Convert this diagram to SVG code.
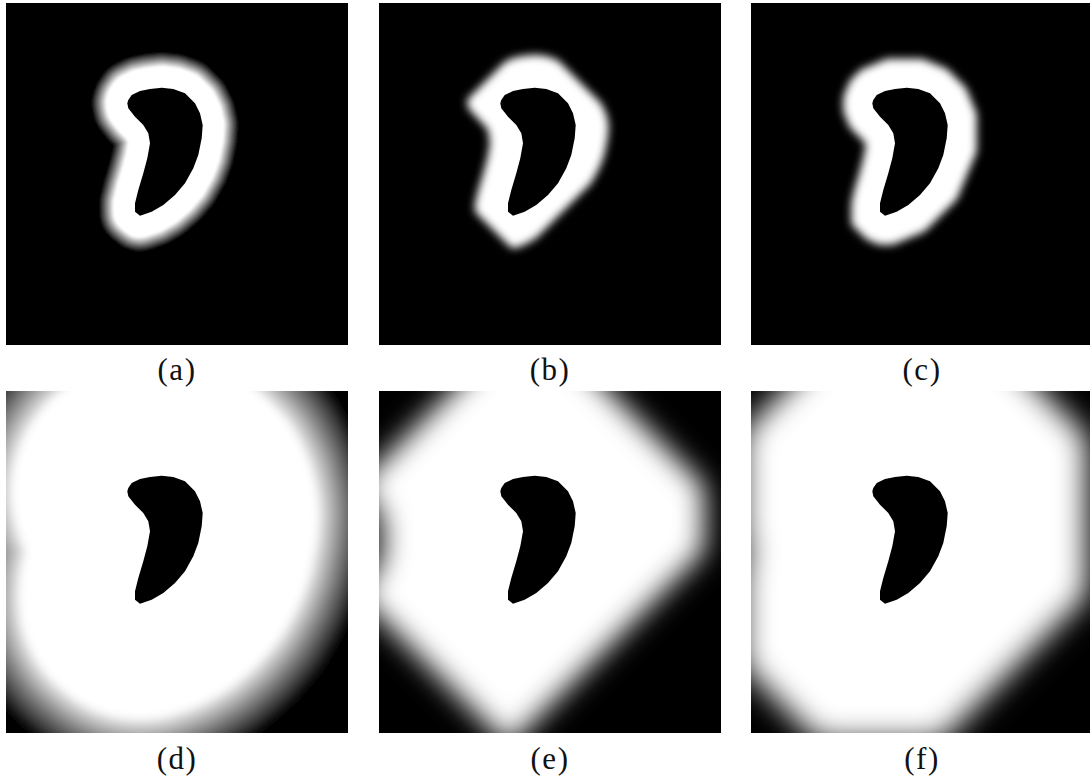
<svg xmlns="http://www.w3.org/2000/svg" xmlns:xlink="http://www.w3.org/1999/xlink" width="1090" height="780" viewBox="0 0 1090 780">
<style>
.bg{fill:#000}
.cres{fill:#000}
.lbl{font-family:"Liberation Serif","Times New Roman",serif;font-size:31px;fill:#111;text-anchor:middle;letter-spacing:1.5px}
.halo{fill:#fff}
</style>
<defs>
<path id="cres" d="M122.3,97 L125.7,92 L134,88 L144,86 L155.7,84.7 L167.3,86 L179,90.3 L189,100.3 L194,110.3 L196.7,122 L195.7,135.3 L192.3,152 L187.3,165.3 L179,180.3 L169,192 L157.3,202 L145.7,208.7 L134,212.7 L129,208.7 L129,200.3 L132.3,187 L137.3,170.3 L141.3,155.3 L144,140.3 L142.3,130.3 L137.3,122 L129,113.7 L122.3,105.3 L121.3,100.3 Z"/>
<clipPath id="panel"><rect x="0" y="0" width="342" height="342"/></clipPath>
<filter id="b1" filterUnits="userSpaceOnUse" x="-300" y="-300" width="942" height="942"><feGaussianBlur stdDeviation="1"/></filter>
<filter id="b4d" filterUnits="userSpaceOnUse" x="-300" y="-300" width="942" height="942"><feGaussianBlur stdDeviation="4"/></filter>
<filter id="b4" filterUnits="userSpaceOnUse" x="-300" y="-300" width="942" height="942"><feGaussianBlur stdDeviation="4.5"/></filter>
<filter id="b14" filterUnits="userSpaceOnUse" x="-300" y="-300" width="942" height="942"><feGaussianBlur stdDeviation="14"/></filter>
<filter id="b15" filterUnits="userSpaceOnUse" x="-300" y="-300" width="942" height="942"><feGaussianBlur stdDeviation="15"/></filter>
</defs>

<g id="panel-a" transform="translate(6,3)">
 <g clip-path="url(#panel)">
  <rect class="bg" x="0" y="0" width="342" height="342"/>
  <g filter="url(#b1)" stroke-linejoin="round">
   <use xlink:href="#cres" fill="#111" stroke="#111" stroke-width="72"/>
   <use xlink:href="#cres" fill="#333" stroke="#333" stroke-width="68"/>
   <use xlink:href="#cres" fill="#555" stroke="#555" stroke-width="64"/>
   <use xlink:href="#cres" fill="#777" stroke="#777" stroke-width="60"/>
   <use xlink:href="#cres" fill="#999" stroke="#999" stroke-width="56"/>
   <use xlink:href="#cres" fill="#bbb" stroke="#bbb" stroke-width="52"/>
   <use xlink:href="#cres" fill="#ddd" stroke="#ddd" stroke-width="48"/>
   <use xlink:href="#cres" fill="#fff" stroke="#fff" stroke-width="44"/>
  </g>
  <use xlink:href="#cres" class="cres"/>
 </g>
</g>

<g id="panel-b" transform="translate(379,3)">
 <g clip-path="url(#panel)">
  <rect class="bg" x="0" y="0" width="342" height="342"/>
  <path class="halo" filter="url(#b4)" d="M88.3,96.4 L125.7,59 L134,55 L144,53 L155.7,51.7 L167.3,53 L179,57.3 L222,100.3 L227,110.3 L229.7,122 L228.7,135.3 L225.3,152 L220.3,165.3 L212,180.3 L157.3,235 L145.7,241.7 L134,245.7 L129,241.7 L96,208.7 L96,200.3 L99.3,187 L104.3,170.3 L108.3,155.3 L111,140.3 L109.3,130.3 L109.3,127 L89.3,105.3 L88.3,100.3 Z"/>
  <use xlink:href="#cres" class="cres"/>
 </g>
</g>

<g id="panel-c" transform="translate(751,3)">
 <g clip-path="url(#panel)">
  <rect class="bg" x="0" y="0" width="342" height="342"/>
  <path class="halo" filter="url(#b4)" d="M110.1,66.5 L136.1,55.7 L171.5,55.7 L195.8,65.8 L215,85 L225.7,110.7 L225.7,148.6 L205.9,196.2 L173.6,228.5 L141.8,241.7 L128.2,241.7 L115.7,236.5 L100.4,221.2 L100.3,200.3 L103.3,187 L108.3,170.3 L112.3,155.3 L115,140.7 L98.9,124.6 L92.3,108.6 L92.3,93.7 L99.1,77.5 Z"/>
  <use xlink:href="#cres" class="cres"/>
 </g>
</g>

<g id="panel-d" transform="translate(6,391)">
 <g clip-path="url(#panel)">
  <rect class="bg" x="0" y="0" width="342" height="342"/>
  <g filter="url(#b4d)" stroke-linejoin="round">
   <use xlink:href="#cres" fill="#161616" stroke="#161616" stroke-width="336"/>
   <use xlink:href="#cres" fill="#353535" stroke="#353535" stroke-width="322"/>
   <use xlink:href="#cres" fill="#545454" stroke="#545454" stroke-width="308"/>
   <use xlink:href="#cres" fill="#727272" stroke="#727272" stroke-width="294"/>
   <use xlink:href="#cres" fill="#919191" stroke="#919191" stroke-width="280"/>
   <use xlink:href="#cres" fill="#b0b0b0" stroke="#b0b0b0" stroke-width="266"/>
   <use xlink:href="#cres" fill="#cfcfcf" stroke="#cfcfcf" stroke-width="252"/>
   <use xlink:href="#cres" fill="#eeeeee" stroke="#eeeeee" stroke-width="238"/>
   <use xlink:href="#cres" fill="#fff" stroke="#fff" stroke-width="230"/>
  </g>
  <use xlink:href="#cres" class="cres"/>
 </g>
</g>

<g id="panel-e" transform="translate(379,391)">
 <g clip-path="url(#panel)">
  <rect class="bg" x="0" y="0" width="342" height="342"/>
  <path class="halo" filter="url(#b14)" d="M151.5,-78.5 L325,95 L325,160 L130,355 L-20,205 L3,168 L3,128 L-20,93 Z"/>
  <use xlink:href="#cres" class="cres"/>
 </g>
</g>

<g id="panel-f" transform="translate(751,391)">
 <g clip-path="url(#panel)">
  <rect class="bg" x="0" y="0" width="342" height="342"/>
  <path class="halo" filter="url(#b15)" d="M-8,41 L73,-40 L250,-40 L336,46 L336,204 L190,350 L67,350 L-8,275 L-8,174 L1,162 L-8,150 Z"/>
  <use xlink:href="#cres" class="cres"/>
 </g>
</g>

<g id="labels">
 <text class="lbl" x="177" y="380">(a)</text>
 <text class="lbl" x="550" y="380">(b)</text>
 <text class="lbl" x="922" y="380">(c)</text>
 <text class="lbl" x="177" y="769">(d)</text>
 <text class="lbl" x="550" y="769">(e)</text>
 <text class="lbl" x="922" y="769">(f)</text>
</g>
</svg>
